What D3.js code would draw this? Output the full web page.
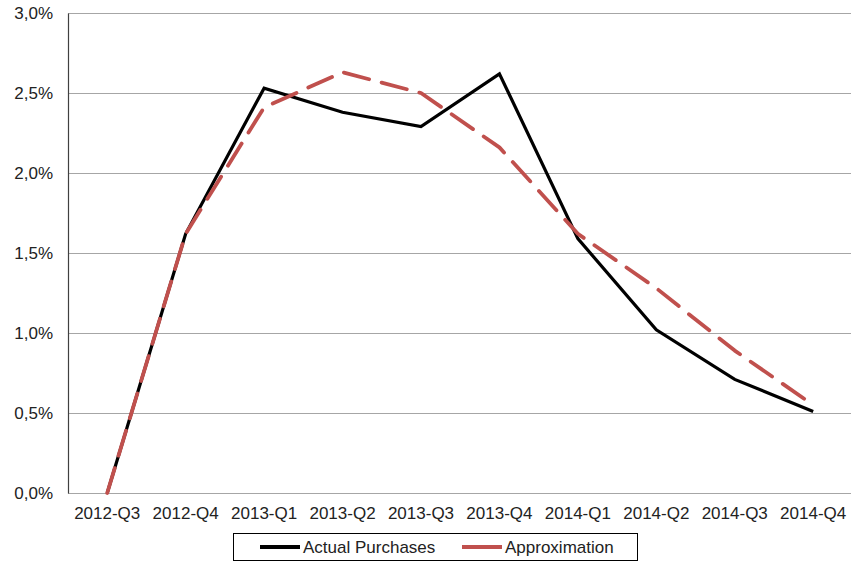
<!DOCTYPE html>
<html>
<head>
<meta charset="utf-8">
<script src="https://cdn.jsdelivr.net/npm/d3@7"></script>
<style>
  body { margin: 0; background: #fff; }
  svg { font-family: "Liberation Sans", Arial, sans-serif; }
</style>
</head>
<body>
<div id="chart"></div>
<script>
// data
const quarters = ['2012-Q3', '2012-Q4', '2013-Q1', '2013-Q2', '2013-Q3',
                  '2013-Q4', '2014-Q1', '2014-Q2', '2014-Q3', '2014-Q4'];
const actual = [0.000, 0.0162, 0.0253, 0.0238, 0.0229, 0.0262, 0.0159, 0.0102, 0.0071, 0.0051];
const approx = [0.000, 0.0162, 0.0241, 0.0263, 0.0250, 0.0216, 0.0162, 0.0128, 0.0089, 0.0055];
const yTicks = [0, 0.005, 0.01, 0.015, 0.02, 0.025, 0.03];
const legendNames = ['Actual Purchases', 'Approximation'];

const width = 851, height = 563;
const margin = { top: 13, right: 0, bottom: 70, left: 68 };
const innerW = width - margin.left - margin.right;
const innerH = height - margin.top - margin.bottom;

const svg = d3.select('#chart').append('svg')
    .attr('width', width)
    .attr('height', height);

const chart = svg.append('g')
    .attr('transform', `translate(${margin.left},${margin.top})`);

const scaleX = d3.scaleBand(quarters, [0, 784.4]);
const scaleY = d3.scaleLinear([0, 0.03], [innerH, 0]);

const fmt = d => d3.format('.1f')(d * 100).replace('.', ',') + '%';

// gridlines
chart.append('g')
    .selectAll('line')
    .data(yTicks)
    .join('line')
    .attr('x1', 0)
    .attr('x2', innerW)
    .attr('y1', d => Math.round(scaleY(d)) + 0.5)
    .attr('y2', d => Math.round(scaleY(d)) + 0.5)
    .attr('stroke', '#a6a6a6')
    .attr('stroke-width', 1);

// y axis
const axisY = chart.append('g')
    .call(d3.axisLeft(scaleY).tickValues(yTicks).tickFormat(fmt).tickSize(0).tickPadding(15));
axisY.select('.domain').attr('stroke', '#404040').attr('stroke-width', 1.2);
axisY.selectAll('text').attr('font-size', 17).attr('fill', '#222');

// x axis
const axisX = chart.append('g')
    .attr('transform', `translate(0,${innerH})`)
    .call(d3.axisBottom(scaleX).tickSize(0).tickPadding(14));
axisX.select('.domain').remove();
axisX.selectAll('text').attr('font-size', 17).attr('fill', '#222');

const line = d3.line()
    .x((d, i) => scaleX(quarters[i]) + scaleX.bandwidth() / 2)
    .y(d => scaleY(d));

chart.append('path')
    .datum(actual)
    .attr('d', line)
    .attr('fill', 'none')
    .attr('stroke', '#000')
    .attr('stroke-width', 3.2)
    .attr('stroke-linejoin', 'miter');

chart.append('path')
    .datum(approx)
    .attr('d', line)
    .attr('fill', 'none')
    .attr('stroke', '#c0504d')
    .attr('stroke-width', 3.8)
    .attr('stroke-dasharray', '26,13')
    .attr('stroke-linecap', 'round')
    .attr('stroke-linejoin', 'round');

// legend
const legend = svg.append('g').attr('transform', 'translate(233,533)');
legend.append('rect')
    .attr('x', 0.5).attr('y', 0.5)
    .attr('width', 404).attr('height', 27)
    .attr('fill', '#fff')
    .attr('stroke', '#000')
    .attr('stroke-width', 1);

const legendColors = ['#000', '#c0504d'];
const legendX = [27, 229];
legendNames.forEach((name, i) => {
    legend.append('line')
        .attr('x1', legendX[i]).attr('x2', legendX[i] + 40)
        .attr('y1', 14).attr('y2', 14)
        .attr('stroke', legendColors[i])
        .attr('stroke-width', 3.8);
    legend.append('text')
        .attr('x', legendX[i] + 43)
        .attr('y', 20)
        .attr('font-size', 17)
        .attr('fill', '#222')
        .text(name);
});
</script>
</body>
</html>
